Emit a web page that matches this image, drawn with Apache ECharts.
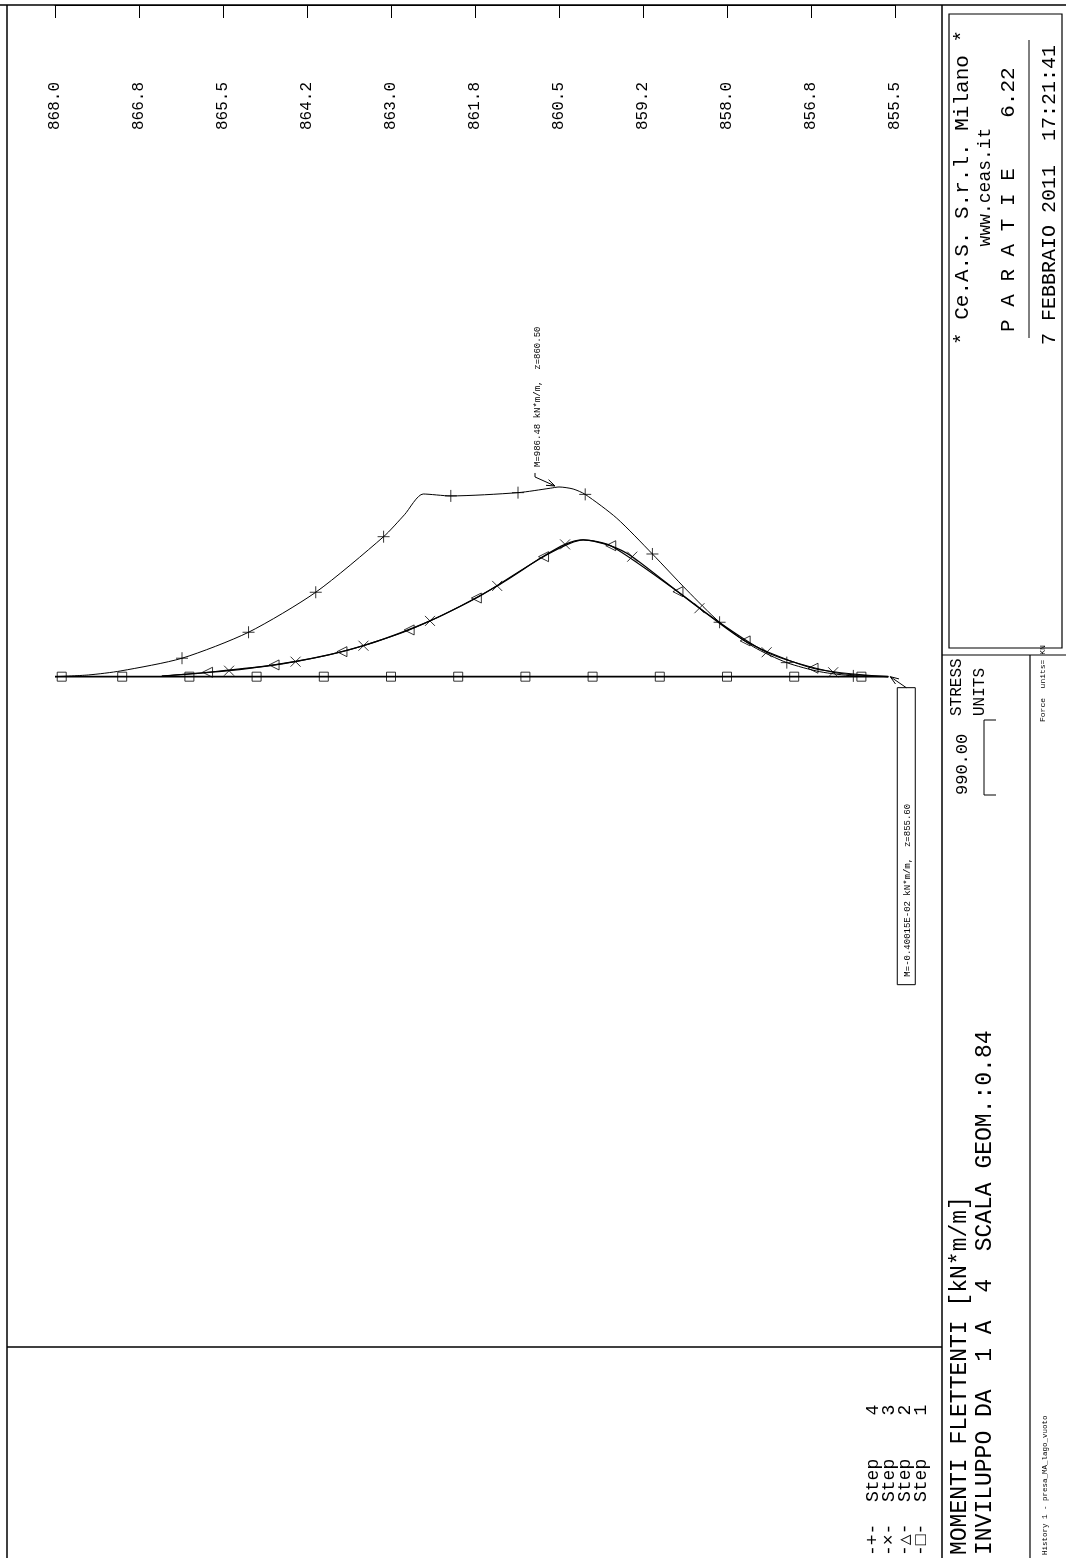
<!DOCTYPE html>
<html><head><meta charset="utf-8">
<script src="https://cdn.jsdelivr.net/npm/echarts@6/dist/echarts.min.js"></script>
<style>html,body{margin:0;padding:0;background:#fff}#c{width:1066px;height:1558px}</style>
</head><body><div id="c"></div>
<script>
// ---- data (z = elevation [m], M = bending moment [kN*m/m]) ----
const zTop = 868.0;
const zTickLabels = ['868.0','866.8','865.5','864.2','863.0','861.8','860.5','859.2','858.0','856.8','855.5'];

const step1Z = [868.0, 867.9, 867, 866, 865, 864, 863, 862, 861, 860, 859, 858, 857, 856, 855.6];
const step1M = [0, 0, 0, 0, 0, 0, 0, 0, 0, 0, 0, 0, 0, 0, 0];
const step1MarkIdx = [1,2,3,4,5,6,7,8,9,10,11,12,13];

const step2Z = [866.41, 865.73, 864.74, 863.73, 862.73, 861.73, 860.73, 860.14, 859.73, 858.73, 857.73, 856.72, 855.60];
const step2M = [3, 23, 61, 130, 243, 409, 624, 711, 681, 442, 186, 44, 0];
const step2MarkIdx = [1,2,3,4,5,6,8,9,10,11];

const step3Z = [866.41, 865.41, 864.42, 863.41, 862.42, 861.42, 860.75, 860.41, 860.14, 859.75, 859.41, 858.41, 857.41, 856.42, 855.60];
const step3M = [3, 31, 78, 161, 290, 472, 622, 688, 711, 683, 624, 356, 127, 23, 0];
const step3MarkIdx = [1,2,3,4,5,7,10,11,12,13];

const step4Z = [868.00, 867.50, 867.02, 866.11, 865.12, 864.12, 863.11, 862.80, 862.52, 862.11, 861.11, 860.63, 860.50, 860.29, 860.11, 859.64, 859.11, 858.60, 858.11, 857.61, 857.11, 856.62, 856.12, 855.60];
const step4M = [0, 9, 30, 96, 231, 439, 728, 842, 950, 940, 957, 980, 986.48, 976, 948, 824, 638, 451, 283, 156, 73, 26, 4, 0];
const step4MarkIdx = [3,4,5,6,9,10,14,16,18,20,22];

const maxNote = {z: 860.50, m: 986.48, text: 'M=986.48 kN*m/m,  z=860.50'};
const endNote = {z: 855.60, m: 0, text: 'M=-0.40015E-02 kN*m/m,  z=855.60'};
const legendNames = ['Step 4','Step 3','Step 2','Step 1'];
const legendGlyphs = ['-+-','-\u00d7-','-\u25b3-','-\u25a1-'];
// --------------------------------------------------------------

const MONO = '"Liberation Mono","DejaVu Sans Mono",monospace';
const toXY = (zs, ms) => zs.map((z, i) => [+(zTop - z).toFixed(3), ms[i]]);
const pick = (zs, ms, idx) => idx.map(i => [+(zTop - zs[i]).toFixed(3), ms[i]]);

const SYM = {
  plus: 'path://M5,0L5,10M0,5L10,5',
  cross: 'path://M0,0L10,10M10,0L0,10',
  tri: 'path://M0,5L10,0L10,10Z',
  sq: 'path://M0,0L10,0L10,10L0,10Z'
};
function lineSeries(data, w) {
  return {type: 'line', data, smooth: 0.25, showSymbol: false, symbol: 'none',
    lineStyle: {color: '#000', width: w}, silent: true, animation: false, z: 3};
}
function markSeries(data, sym, size) {
  return {type: 'scatter', data, symbol: sym, symbolSize: size, silent: true, animation: false, z: 4,
    itemStyle: {color: 'rgba(0,0,0,0)', borderColor: '#000', borderWidth: 1}};
}

const chart = echarts.init(document.getElementById('c'), null, {renderer: 'canvas'});
chart.setOption({
  backgroundColor: '#fff',
  animation: false,
  grid: {left: 55, width: 840, top: 5, height: 1342, containLabel: false},
  xAxis: {
    type: 'value', position: 'top', min: 0, max: 12.5, interval: 1.25,
    axisLine: {show: true, onZero: false, lineStyle: {color: '#000', width: 1}},
    axisTick: {show: true, inside: true, length: 13, lineStyle: {color: '#000', width: 1}},
    axisLabel: {show: true, inside: true, rotate: -90, margin: 77, color: '#000',
      fontFamily: MONO, fontSize: 16,
      formatter: v => zTickLabels[Math.round(v / 1.25)] || ''},
    splitLine: {show: false}
  },
  yAxis: {type: 'value', min: -3486, max: 3493, show: false},
  series: [
    lineSeries(toXY(step1Z, step1M), 1.6),
    markSeries(pick(step1Z, step1M, step1MarkIdx), SYM.sq, 9),
    lineSeries(toXY(step2Z, step2M), 1.2),
    markSeries(pick(step2Z, step2M, step2MarkIdx), SYM.tri, 10),
    lineSeries(toXY(step3Z, step3M), 1.2),
    markSeries(pick(step3Z, step3M, step3MarkIdx), SYM.cross, 10),
    lineSeries(toXY(step4Z, step4M), 1),
    markSeries(pick(step4Z, step4M, step4MarkIdx), SYM.plus, 12)
  ]
});

// ---- annotations and frame (positioned from the axes) ----
const px = (z, m) => chart.convertToPixel({gridIndex: 0}, [zTop - z, m]);
const g = [];
const L = (x1, y1, x2, y2, w) => g.push({type: 'line', shape: {x1, y1, x2, y2},
  style: {stroke: '#000', lineWidth: w || 1}, silent: true});
const T = (text, x, y, size, align) => g.push({type: 'text', x, y, rotation: Math.PI / 2,
  style: {text, fill: '#000', font: size + 'px ' + MONO, textAlign: align || 'left', textVerticalAlign: 'middle'},
  silent: true});
function arrow(x1, y1, x2, y2) {
  L(x1, y1, x2, y2, 1);
  const a = Math.atan2(y2 - y1, x2 - x1), h = 9;
  [0.35, -0.35].forEach(d => L(x2, y2, x2 - h * Math.cos(a + d), y2 - h * Math.sin(a + d), 1));
}

// frame
L(0, 5, 1066, 5, 1.5);
L(7, 5, 7, 1558, 1.5);
L(942, 5, 942, 1558, 1.5);
L(7, 1347, 942, 1347, 1.5);

// max note
const pMax = px(maxNote.z, maxNote.m);
arrow(pMax[0] - 24, pMax[1] - 10, pMax[0] - 4, pMax[1] - 1);
L(pMax[0] - 24, pMax[1] - 10, pMax[0] - 24, pMax[1] - 14, 1);
T(maxNote.text, pMax[0] - 21, pMax[1] - 20, 9);

// end note
const pEnd = px(endNote.z, endNote.m);
arrow(pEnd[0] + 18, pEnd[1] + 11, pEnd[0] + 2, pEnd[1]);
g.push({type: 'rect', shape: {x: pEnd[0] + 9, y: pEnd[1] + 11, width: 18, height: 297},
  style: {fill: 'none', stroke: '#000', lineWidth: 1}, silent: true});
T(endNote.text, pEnd[0] + 19, pEnd[1] + 300, 9);

// legend
legendNames.forEach((n, i) => T(legendGlyphs[i] + '  ' + n.replace(' ', '    '), 873 + i * 16, 1556, 18));

// title block
g.push({type: 'rect', shape: {x: 949, y: 14, width: 113, height: 634},
  style: {fill: 'none', stroke: '#000', lineWidth: 1.2}, silent: true});
T('* Ce.A.S. S.r.l. Milano *', 962, 345, 21);
T('www.ceas.it', 985, 187, 18, 'center');
T('P A R A T I E    6.22', 1008, 332, 21);
L(1029, 40, 1029, 338, 1);
T('7 FEBBRAIO 2011  17:21:41', 1050, 345, 20);
L(942, 655, 1066, 655, 1.2);
T('STRESS', 957, 716, 16);
T('UNITS', 980, 716, 16);
T('990.00', 962, 795, 17);
L(984, 720, 984, 795, 1); L(984, 720, 996, 720, 1); L(984, 795, 996, 795, 1);
L(1030, 655, 1030, 1558, 1.2);
T('Force  units= KN', 1043, 722, 8);
T('MOMENTI FLETTENTI [kN*m/m]', 960, 1555, 23);
T('INVILUPPO DA  1 A  4  SCALA GEOM.:0.84', 985, 1555, 23);
T('History 1 - presa_MA_lago_vuoto', 1045, 1555, 7.5);

chart.setOption({graphic: g});
</script></body></html>
